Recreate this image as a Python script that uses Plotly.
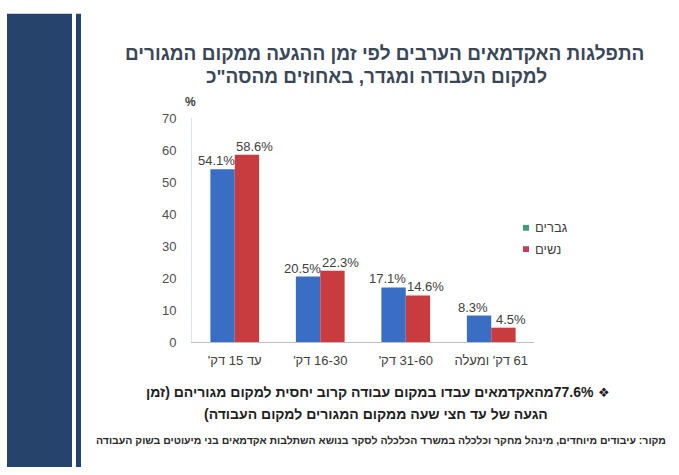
import plotly.graph_objects as go

W, H = 679, 475

# Data
categories = ["עד 15 דק'", "16-30 דק'", "31-60 דק'", "61 דק' ומעלה"]
men = [54.1, 20.5, 17.1, 8.3]
women = [58.6, 22.3, 14.6, 4.5]
series_names = ["גברים", "נשים"]
y_ticks = [0, 10, 20, 30, 40, 50, 60, 70]

title_lines = [
    "התפלגות האקדמאים הערבים לפי זמן ההגעה ממקום המגורים",
    "למקום העבודה ומגדר, באחוזים מהסה\"כ",
]
note_lines = [
    "77.6%מהאקדמאים עבדו במקום עבודה קרוב יחסית למקום מגוריהם (זמן",
    "הגעה של עד חצי שעה ממקום המגורים למקום העבודה)",
]
source_text = ("מקור: עיבודים מיוחדים, מינהל מחקר וכלכלה במשרד הכלכלה לסקר בנושא "
               "השתלבות אקדמאים בני מיעוטים בשוק העבודה")

BLUE = "#3a6ec4"
RED = "#c83c3f"
LEG_MEN = "#3f9a78"
LEG_WOMEN = "#c23e5c"
FONT = "Liberation Sans, Arial, sans-serif"

RLE, PDF = "\u202b", "\u202c"

# plot area in pixels
X0, X1, Y0, Y1 = 192, 534, 115, 346
BARGAP = 0.43


def rtl(s):
    return RLE + s + PDF


def px(x):
    return x / W


def py(y):
    return 1 - y / H


fig = go.Figure()
fig.add_trace(go.Bar(x=categories, y=men, name=series_names[0], marker_color=BLUE,
                     marker_line_width=0, showlegend=False))
fig.add_trace(go.Bar(x=categories, y=women, name=series_names[1], marker_color=RED,
                     marker_line_width=0, showlegend=False))

# half a bar width in pixels, so each label sits over its own bar
half_bar = (X1 - X0) / len(categories) * (1 - BARGAP) / 4

annotations = []
for vals, sign, extra in ((men, -1, 6), (women, 1, 8)):
    for c, v in zip(categories, vals):
        annotations.append(dict(x=c, y=v, xref="x", yref="y", text=f"{v:.1f}%",
                                showarrow=False, xshift=sign * (half_bar + extra),
                                yanchor="bottom", yshift=-1,
                                font=dict(family=FONT, size=13, color="#404040")))

# title
for i, line in enumerate(title_lines):
    annotations.append(dict(x=px(384 - 8 * i), y=py(48 + 24 * i), xref="paper", yref="paper",
                            text=rtl(line), showarrow=False, xanchor="center", yanchor="middle",
                            font=dict(family=FONT, size=19, color="#3a4757", weight="bold")))

# bullet note
bullet = '<span style="font-family:DejaVu Sans">❖</span>'
annotations.append(dict(x=px(612), y=py(398), xref="paper", yref="paper",
                        text=bullet, showarrow=False, xanchor="right", yanchor="middle",
                        font=dict(family=FONT, size=13, color="#1e1e1e")))
annotations.append(dict(x=px(596), y=py(398), xref="paper", yref="paper",
                        text=rtl(note_lines[0]), showarrow=False, xanchor="right",
                        yanchor="middle",
                        font=dict(family=FONT, size=14, color="#1e1e1e", weight="bold")))
annotations.append(dict(x=px(376), y=py(420), xref="paper", yref="paper",
                        text=rtl(note_lines[1]), showarrow=False, xanchor="center",
                        yanchor="middle",
                        font=dict(family=FONT, size=14, color="#1e1e1e", weight="bold")))

# source line
annotations.append(dict(x=px(668), y=py(447), xref="paper", yref="paper", text=rtl(source_text),
                        showarrow=False, xanchor="right", yanchor="middle",
                        font=dict(family=FONT, size=10.5, color="#2a2a2a", weight="bold")))

# axis unit
annotations.append(dict(x=px(190), y=py(98), xref="paper", yref="paper", text="%",
                        showarrow=False, xanchor="center", yanchor="middle",
                        font=dict(family=FONT, size=12, color="#404040", weight="bold")))

# legend
shapes = []
for i, (name, col) in enumerate(zip(series_names, (LEG_MEN, LEG_WOMEN))):
    yc = 228 + 22 * i
    shapes.append(dict(type="rect", xref="paper", yref="paper",
                       x0=px(523), x1=px(529), y0=py(yc + 3), y1=py(yc - 3),
                       fillcolor=col, line_width=0))
    annotations.append(dict(x=px(533), y=py(yc), xref="paper", yref="paper", text=rtl(name),
                            showarrow=False, xanchor="left", yanchor="middle",
                            font=dict(family=FONT, size=13, color="#404040")))

# side decoration bands
shapes.append(dict(type="rect", xref="paper", yref="paper", x0=px(7), x1=px(72), y0=0, y1=py(7),
                   fillcolor="#26436b", line_width=0, layer="below"))
shapes.append(dict(type="rect", xref="paper", yref="paper", x0=px(76), x1=px(81), y0=0, y1=py(7),
                   fillcolor="#26436b", line_width=0, layer="below"))

fig.update_layout(
    width=W, height=H, autosize=False,
    margin=dict(l=0, r=0, t=0, b=0),
    paper_bgcolor="white", plot_bgcolor="white",
    barmode="group", bargap=BARGAP, bargroupgap=0,
    showlegend=False,
    annotations=annotations, shapes=shapes,
    font=dict(family=FONT),
    xaxis=dict(domain=[px(X0), px(X1)], showgrid=False, zeroline=False,
               showline=True, linecolor="#bfbfbf", linewidth=1, ticks="",
               tickvals=categories, ticktext=[rtl(c) for c in categories],
               tickfont=dict(family=FONT, size=13, color="#404040"), ticklabelstandoff=6),
    yaxis=dict(domain=[py(Y1), py(Y0)], range=[0, 70], tickvals=y_ticks, showgrid=False,
               zeroline=False, showline=True, linecolor="#dde3ea", linewidth=1, ticks="",
               tickfont=dict(family=FONT, size=13, color="#505050"), ticklabelstandoff=12),
)

fig.write_html("out.html")
